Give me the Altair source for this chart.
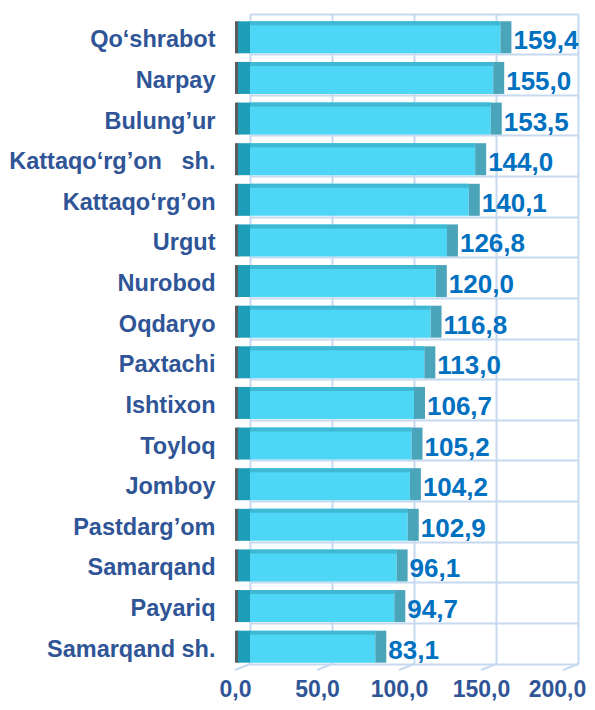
import altair as alt
import pandas as pd

regions = ["Qo‘shrabot", "Narpay", "Bulung’ur", "Kattaqo‘rg’on\u00a0\u00a0\u00a0sh.", "Kattaqo‘rg’on\u00a0",
           "Urgut", "Nurobod", "Oqdaryo", "Paxtachi", "Ishtixon", "Toyloq", "Jomboy",
           "Pastdarg’om", "Samarqand", "Payariq", "Samarqand sh."]
values = [159.4, 155.0, 153.5, 144.0, 140.1, 126.8, 120.0, 116.8, 113.0, 106.7,
          105.2, 104.2, 102.9, 96.1, 94.7, 83.1]
tick_values = [0, 50, 100, 150, 200]

W, H = 328, 650
GRID = "#c6d9f0"
LABEL_BLUE = "#2f5597"
VALUE_BLUE = "#0070c0"

df = pd.DataFrame({"region": regions, "value": values})
ticks_df = pd.DataFrame({"t": tick_values})

xscale = alt.Scale(domain=[0, 200], nice=False)
yenc = alt.Y("region:N", sort=regions,
             scale=alt.Scale(paddingInner=0, paddingOuter=0),
             axis=alt.Axis(title=None, labelFont="Liberation Sans", labelFontSize=23.5,
                           labelFontWeight="bold", labelColor=LABEL_BLUE, labelLimit=400,
                           labelPadding=35, labelOffset=6, ticks=False, tickSize=0,
                           domain=False, grid=True, gridColor=GRID, gridWidth=2,
                           bandPosition=0))

base = alt.Chart(df).encode(y=yenc)

xaxis = alt.Axis(title=None, values=tick_values,
                 labelExpr="replace(format(datum.value, '.1f'), '.', ',')",
                 labelFont="Liberation Sans", labelFontSize=23, labelFontWeight="bold",
                 labelColor=LABEL_BLUE,
                 labelOffset={"condition": {"test": "datum.value == 200", "value": -21}, "value": -15},
                 labelPadding=14,
                 labelFlush=False, labelOverlap=False, ticks=False, tickSize=0,
                 domain=True, domainColor=GRID, domainWidth=2,
                 grid=True, gridColor=GRID, gridWidth=2)

wall = base.mark_bar(color="#5a5a5a", size=32, yOffset=3, xOffset=-15, x2Offset=-11).encode(
    x=alt.datum(0, scale=xscale), x2=alt.datum(0))
left_face = base.mark_bar(color="#1e9db9", size=32, yOffset=3, xOffset=-12, x2Offset=0).encode(
    x=alt.datum(0), x2=alt.datum(0))
main = base.mark_bar(color="#4dd6f5", size=32, yOffset=3, xOffset=-11).encode(
    x=alt.X("value:Q", scale=xscale, axis=xaxis), x2=alt.datum(0))
top_strip = base.mark_bar(color="#3fb8d4", size=4, yOffset=-11, xOffset=-11).encode(
    x="value:Q", x2=alt.datum(0))
cap = base.mark_bar(color="#4aa5bb", size=32, yOffset=3, xOffset=-11, x2Offset=0).encode(
    x="value:Q", x2="value:Q")
labels = base.transform_calculate(
    label="replace(format(datum.value, '.1f'), '.', ',')"
).mark_text(align="left", baseline="middle", dx=2, dy=7, font="Liberation Sans",
            fontSize=26, fontWeight="bold", color=VALUE_BLUE).encode(
    x="value:Q", text="label:N")

floor = alt.Chart(ticks_df).mark_rule(color=GRID, strokeWidth=2, xOffset=-15, x2Offset=0).encode(
    x="t:Q", x2="t:Q", y=alt.value(H + 6), y2=alt.value(H))

chart = alt.layer(wall, left_face, main, top_strip, cap, labels, floor).properties(
    width=W, height=H,
    autosize=alt.AutoSizeParams(type="none"),
    padding={"left": 242, "top": 6, "right": 9, "bottom": 38},
).configure_view(stroke=None).configure(background="white")

chart.save("out.html", embed_options={"renderer": "svg", "actions": False})
